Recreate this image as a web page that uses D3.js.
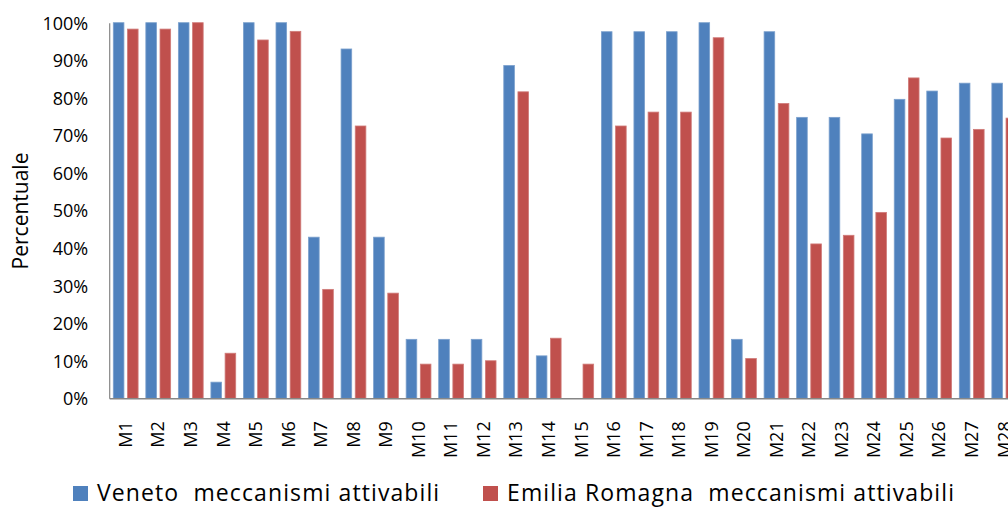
<!DOCTYPE html>
<html><head><meta charset="utf-8">
<script src="https://cdn.jsdelivr.net/npm/d3@7"></script>
<style>
body{margin:0;background:#fff;overflow:hidden}
svg{display:block}
text{font-family:"Open Sans",sans-serif;fill:#000}
</style>
</head><body>
<svg id="chart" width="1008" height="507"></svg>
<script>
const categories = ["M1","M2","M3","M4","M5","M6","M7","M8","M9","M10","M11","M12","M13","M14","M15","M16","M17","M18","M19","M20","M21","M22","M23","M24","M25","M26","M27","M28"];
const seriesNames = ["Veneto  meccanismi attivabili","Emilia Romagna  meccanismi attivabili"];
const veneto = [100,100,100,4.3,100,100,42.9,93.0,42.9,15.7,15.7,15.7,88.6,11.3,0,97.6,97.6,97.6,100,15.7,97.6,74.8,74.8,70.4,79.6,81.8,83.9,83.9];
const emilia = [98.3,98.3,100,12.0,95.4,97.7,29.0,72.5,28.0,9.1,9.1,10.0,81.6,16.0,9.1,72.5,76.2,76.2,96.0,10.6,78.5,41.1,43.4,49.5,85.3,69.3,71.6,74.6];
const yTicks = [0,10,20,30,40,50,60,70,80,90,100];
const yTitle = "Percentuale";
const colors = ["#4F81BD","#C0504D"];
const strokes = ["#7BA0CD","#D07C7A"];

const svg = d3.select("#chart");
const x = d3.scaleBand().domain(categories).range([109.2, 1020.3]).padding(0);
const xs = d3.scaleBand().domain([0,1]).range([4.1, 28.9]).paddingInner(0.25);
const y = d3.scaleLinear().domain([0,100]).range([398.3, 22.7]);

const data = categories.map((c,i)=>({cat:c, vals:[veneto[i], emilia[i]]}));

const g = svg.append("g");
g.selectAll("g.grp").data(data).join("g").attr("class","grp")
  .attr("transform", d=>`translate(${x(d.cat)},0)`)
  .selectAll("rect").data(d=>d.vals.map((v,k)=>({k,v}))).join("rect")
  .attr("x", d=>xs(d.k)).attr("width", xs.bandwidth())
  .attr("y", d=>y(d.v)).attr("height", d=>y(0)-y(d.v))
  .attr("fill", d=>colors[d.k])
  .attr("stroke", d=>d.v>0?strokes[d.k]:"none").attr("stroke-width",0.8);

// y axis
const yAxis = svg.append("g").attr("transform","translate(109.2,0)")
  .call(d3.axisLeft(y).tickValues(yTicks).tickSize(0).tickPadding(21).tickFormat(d=>d+"%"));
yAxis.select(".domain").attr("stroke","#868686").attr("stroke-width",1.2);
yAxis.selectAll("text").style("font-size","18px").attr("dy","0.36em");

// x axis
const xAxis = svg.append("g").attr("transform","translate(0,398.3)")
  .call(d3.axisBottom(x).tickSize(0).tickPadding(0));
xAxis.select(".domain").attr("stroke","#868686").attr("stroke-width",1.6);
xAxis.selectAll("text").style("font-size","18px")
  .attr("text-anchor","end").attr("transform","rotate(-90)")
  .attr("x",-23).attr("y",0).attr("dy","0.36em").attr("dx","0");

// y title
svg.append("text").attr("transform","translate(28,211) rotate(-90)")
  .attr("text-anchor","middle").style("font-size","21px").text(yTitle);

// legend
const legX = [73, 483];
const leg = svg.append("g").selectAll("g").data(seriesNames).join("g")
  .attr("transform",(d,i)=>`translate(${legX[i]},486)`);
leg.append("rect").attr("width",15).attr("height",15).attr("fill",(d,i)=>colors[i]);
leg.append("text").attr("x",24).attr("y",14.5).style("font-size","23px")
  .style("letter-spacing","1.1px")
  .style("white-space","pre").attr("xml:space","preserve").text(d=>d);
</script>
</body></html>
